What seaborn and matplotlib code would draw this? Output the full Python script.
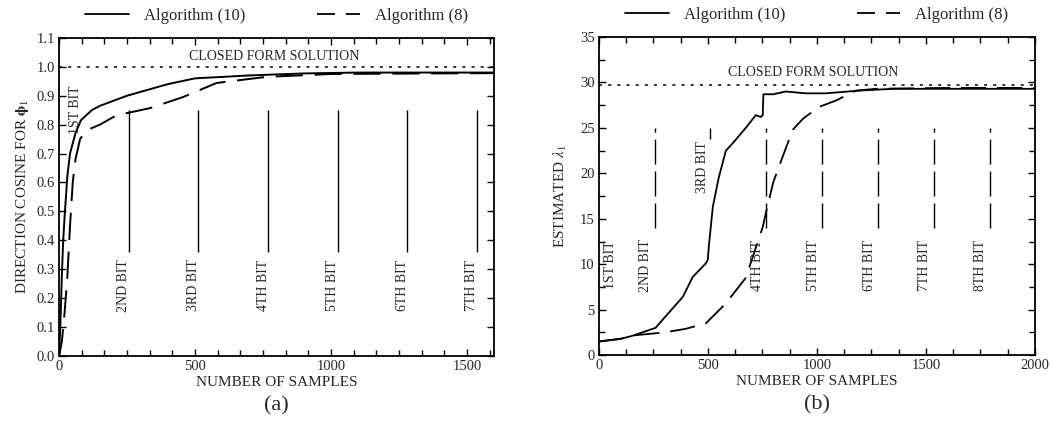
import matplotlib
matplotlib.use("Agg")
import matplotlib.pyplot as plt
import seaborn as sns
import pandas as pd
from matplotlib.ticker import MultipleLocator, FormatStrFormatter
from matplotlib.lines import Line2D

# ---- panel (a): direction cosine ----
a_solid_x = [0, 5, 10, 15, 20, 30, 40, 60, 80, 120, 150, 250, 400, 500, 700, 900, 1100, 1600]
a_solid_y = [0.0, 0.12, 0.28, 0.40, 0.48, 0.62, 0.70, 0.77, 0.815, 0.85, 0.865, 0.90, 0.94, 0.96, 0.97, 0.977, 0.98, 0.98]
a_dash_x = [0, 10, 20, 30, 40, 50, 60, 77, 100, 150, 212, 250, 334, 455, 579, 762, 1000, 1600]
a_dash_y = [0.0, 0.05, 0.15, 0.27, 0.45, 0.60, 0.68, 0.75, 0.78, 0.80, 0.833, 0.84, 0.857, 0.895, 0.944, 0.965, 0.975, 0.978]
a_closed = 1.0
a_bits = [256, 512, 768, 1024, 1280, 1536]
a_bit_labels = ["2ND BIT", "3RD BIT", "4TH BIT", "5TH BIT", "6TH BIT", "7TH BIT"]
a_bit_span = [0.36, 0.85]

# ---- panel (b): estimated lambda_1 ----
b_solid_x = [0, 100, 150, 260, 385, 431, 491, 500, 505, 523, 550, 583, 614, 674, 720, 743, 752, 755, 800, 858, 950, 1041, 1193, 1350, 1600, 2000]
b_solid_y = [1.5, 1.8, 2.1, 3.0, 6.4, 8.6, 10.1, 10.5, 12.0, 16.3, 19.5, 22.5, 23.3, 25.0, 26.4, 26.2, 26.4, 28.7, 28.7, 29.0, 28.8, 28.8, 29.1, 29.3, 29.3, 29.3]
b_dash_x = [0, 100, 170, 300, 399, 491, 583, 674, 752, 766, 800, 849, 890, 936, 1009, 1087, 1179, 1270, 1600, 2000]
b_dash_y = [1.5, 1.8, 2.2, 2.5, 2.9, 3.5, 5.7, 8.5, 14.1, 15.6, 19.0, 22.2, 24.8, 26.0, 27.3, 28.0, 29.1, 29.3, 29.4, 29.4]
b_closed = 29.7
b_bits = [256, 768, 1024, 1280, 1536, 1792]
b_bit_labels = ["2ND BIT", "4TH BIT", "5TH BIT", "6TH BIT", "7TH BIT", "8TH BIT"]
b_bit_span = [14.0, 25.0]
b_third_bit = 512
b_third_span = [23.8, 25.0]

sns.set_theme(style="ticks")
plt.rcParams["font.family"] = ["Liberation Serif", "DejaVu Serif"]
plt.rcParams["mathtext.fontset"] = "stix"

DASH = (14, 6)
fig = plt.figure(figsize=(10.56, 4.3), dpi=100)
ax1 = fig.add_axes([0.056, 0.172, 0.412, 0.740])
ax2 = fig.add_axes([0.567, 0.174, 0.413, 0.740])

solid_a = pd.DataFrame({"x": a_solid_x, "y": a_solid_y})
dash_a = pd.DataFrame({"x": a_dash_x, "y": a_dash_y})
sns.lineplot(data=solid_a, x="x", y="y", ax=ax1, color="black", lw=1.4)
sns.lineplot(data=dash_a, x="x", y="y", ax=ax1, color="black", lw=1.4)
ax1.lines[-1].set_dashes(DASH)
ax1.axhline(a_closed, color="black", lw=1.1, ls=(0, (2, 4)))
ax1.vlines(a_bits, a_bit_span[0], a_bit_span[1], color="black", lw=1.0)
for b, lab in zip(a_bits, a_bit_labels):
    ax1.text(b - 18, 0.245, lab, rotation=90, ha="center", va="center", fontsize=10)
ax1.text(60, 0.85, "1ST BIT", rotation=90, ha="center", va="center", fontsize=10)
ax1.text(792, 1.037, "CLOSED FORM SOLUTION", ha="center", va="center", fontsize=10)
ax1.set_xlim(0, 1600)
ax1.set_ylim(0, 1.1)
ax1.xaxis.set_major_locator(MultipleLocator(500))
ax1.xaxis.set_minor_locator(MultipleLocator(500 / 6))
ax1.yaxis.set_major_locator(MultipleLocator(0.1))
ax1.yaxis.set_major_formatter(FormatStrFormatter("%.1f"))
ax1.set_xlabel("NUMBER OF SAMPLES", fontsize=11, labelpad=2)
ax1.set_ylabel(r"DIRECTION COSINE FOR $\mathbf{\phi}_1$", fontsize=11, labelpad=4)
ax1.text(0.5, -0.155, "(a)", transform=ax1.transAxes, ha="center", va="center", fontsize=16)

solid_b = pd.DataFrame({"x": b_solid_x, "y": b_solid_y})
dash_b = pd.DataFrame({"x": b_dash_x, "y": b_dash_y})
sns.lineplot(data=solid_b, x="x", y="y", ax=ax2, color="black", lw=1.3)
sns.lineplot(data=dash_b, x="x", y="y", ax=ax2, color="black", lw=1.3)
ax2.lines[-1].set_dashes(DASH)
ax2.axhline(b_closed, color="black", lw=1.1, ls=(0, (2, 4)))
ax2.vlines(b_bits, b_bit_span[0], b_bit_span[1], color="black", lw=1.0, linestyles=(0, (18, 5)))
ax2.vlines([b_third_bit], b_third_span[0], b_third_span[1], color="black", lw=1.0)
for b, lab in zip(b_bits, b_bit_labels):
    ax2.text(b - 40, 9.9, lab, rotation=90, ha="center", va="center", fontsize=10)
ax2.text(55, 9.9, "1ST BIT", rotation=90, ha="center", va="center", fontsize=10)
ax2.text(b_third_bit - 35, 20.7, "3RD BIT", rotation=90, ha="center", va="center", fontsize=10)
ax2.text(982, 31.1, "CLOSED FORM SOLUTION", ha="center", va="center", fontsize=10)
ax2.set_xlim(0, 2000)
ax2.set_ylim(0, 35)
ax2.xaxis.set_major_locator(MultipleLocator(500))
ax2.xaxis.set_minor_locator(MultipleLocator(125))
ax2.yaxis.set_major_locator(MultipleLocator(5))
ax2.yaxis.set_minor_locator(MultipleLocator(2.5))
ax2.set_xlabel("NUMBER OF SAMPLES", fontsize=11, labelpad=2)
ax2.set_ylabel(r"ESTIMATED $\lambda_1$", fontsize=11, labelpad=8)
ax2.text(0.5, -0.155, "(b)", transform=ax2.transAxes, ha="center", va="center", fontsize=16)

for ax in (ax1, ax2):
    for s in ax.spines.values():
        s.set_linewidth(1.3)
        s.set_color("black")
    ax.tick_params(which="both", direction="in", top=True, right=True, labelsize=10.5, pad=3, color="black")
    ax.tick_params(which="major", length=5, width=1)
    ax.tick_params(which="minor", length=4, width=1)

# legends above each panel
handles = [Line2D([], [], color="black", lw=1.3),
           Line2D([], [], color="black", lw=1.3, dashes=(10, 6))]
labels = ["Algorithm (10)", "Algorithm (8)"]
for ax in (ax1, ax2):
    ax.legend(handles, labels, loc="lower center", bbox_to_anchor=(0.5, 1.018), ncol=2,
              frameon=False, fontsize=12, handlelength=2.6, columnspacing=4.3, handletextpad=0.9,
              borderaxespad=0.1)

fig.savefig("out.png", dpi=100)
